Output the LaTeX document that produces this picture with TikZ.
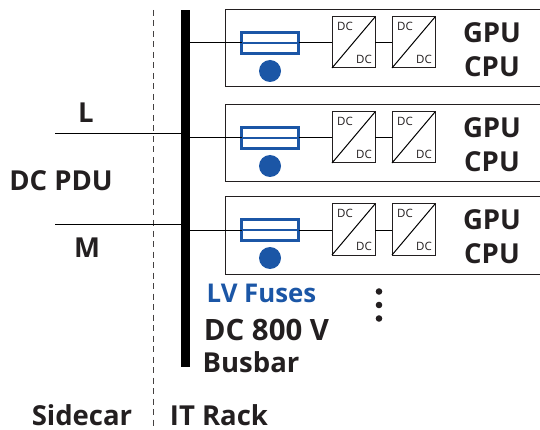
\documentclass[tikz,border=0pt]{standalone}
\usepackage{fontspec}
\setmainfont{Open Sans}
\definecolor{fuseblue}{HTML}{1B56A6}
\definecolor{inkdark}{HTML}{231F20}
\begin{document}
\begin{tikzpicture}[x=1pt, y=-1pt, font=\bfseries\fontsize{27.5}{27.5}\selectfont, text=inkdark, inner sep=0, line join=miter, line width=1pt,
	rackbox/.style={draw=inkdark, minimum width=330pt, minimum height=77pt},
	fusebox/.style={draw=fuseblue, line width=2.6pt, outer sep=0, minimum width=57pt, minimum height=21pt},
	dcbox/.style={draw=inkdark, outer sep=0, minimum width=43pt, minimum height=51pt},
	dclabel/.style={font=\fontsize{11.5}{11.5}\selectfont}]
			\useasboundingbox (0,0) rectangle (540,430);
			\clip (0,0) rectangle (540,430);
			\def\busx{185.5}
			\node (bus) at (\busx,188.5) [fill=black, outer sep=0, minimum width=9pt, minimum height=357pt]{};
			\coordinate (dashtop) at (153,10);
			\coordinate (dashend) at (153,430);
			\draw[dash pattern=on 6pt off 4.5pt, color=inkdark!85] (dashtop)--(dashend);
			\coordinate (feedL) at (55,134);
			\coordinate (feedM) at (55,225);
			\draw (feedL)--(feedL -| bus.west);
			\draw (feedM)--(feedM -| bus.west);
			\foreach \n/\ytop in {1/0, 2/95, 3/187} {
				\node (rack\n) at (390,48.5+\ytop) [rackbox]{};
				\node (fuse\n) at (270,43+\ytop) [fusebox]{};
				\node (fusedot\n) at (270,71+\ytop) [circle, fill=fuseblue, minimum size=22pt]{};
				\node (dcA\n) at (353.5,42.5+\ytop) [dcbox]{};
				\node (dcB\n) at (413.5,42.5+\ytop) [dcbox]{};
				\draw (dcA\n.south west)--(dcA\n.north east);
				\draw (dcB\n.south west)--(dcB\n.north east);
				\node (dcAin\n) at (345,26+\ytop) [dclabel]{DC};
				\node (dcAout\n) at (364,59.5+\ytop) [dclabel]{DC};
				\node (dcBin\n) at (405,26+\ytop) [dclabel]{DC};
				\node (dcBout\n) at (424,59.5+\ytop) [dclabel]{DC};
				\draw (fuse\n.west -| bus.east)--(fuse\n.west);
				\draw[color=fuseblue, line width=2.6pt] (fuse\n.west)--(fuse\n.east);
				\draw (fuse\n.east)--(dcA\n.west |- fuse\n.east);
				\draw (dcA\n.east |- fuse\n.east)--(dcB\n.west |- fuse\n.east);
				\node (gpu\n) at (492,32.5+\ytop){GPU};
				\node (cpu\n) at (492,67+\ytop){CPU};
			}
			\node (labelL) at (86,113){L};
			\node (labelPDU) at (61,181){DC PDU};
			\node (labelM) at (87,248){M};
			\node (labelFuses) at (261.5,293) [text=fuseblue, font=\bfseries\fontsize{25.8}{25.8}\selectfont]{LV Fuses};
			\node (labelVolt) at (266.5,330) [font=\bfseries\fontsize{29.4}{29.4}\selectfont]{DC 800 V};
			\node (labelBus) at (251,362){Busbar};
			\node (labelSide) at (82,415.5){Sidecar};
			\node (labelRack) at (219,415.5){IT Rack};
			\foreach \y in {291.5,305,318.5}
				\fill[inkdark] (379,\y) circle (3.3pt);
		\end{tikzpicture}
\end{document}
